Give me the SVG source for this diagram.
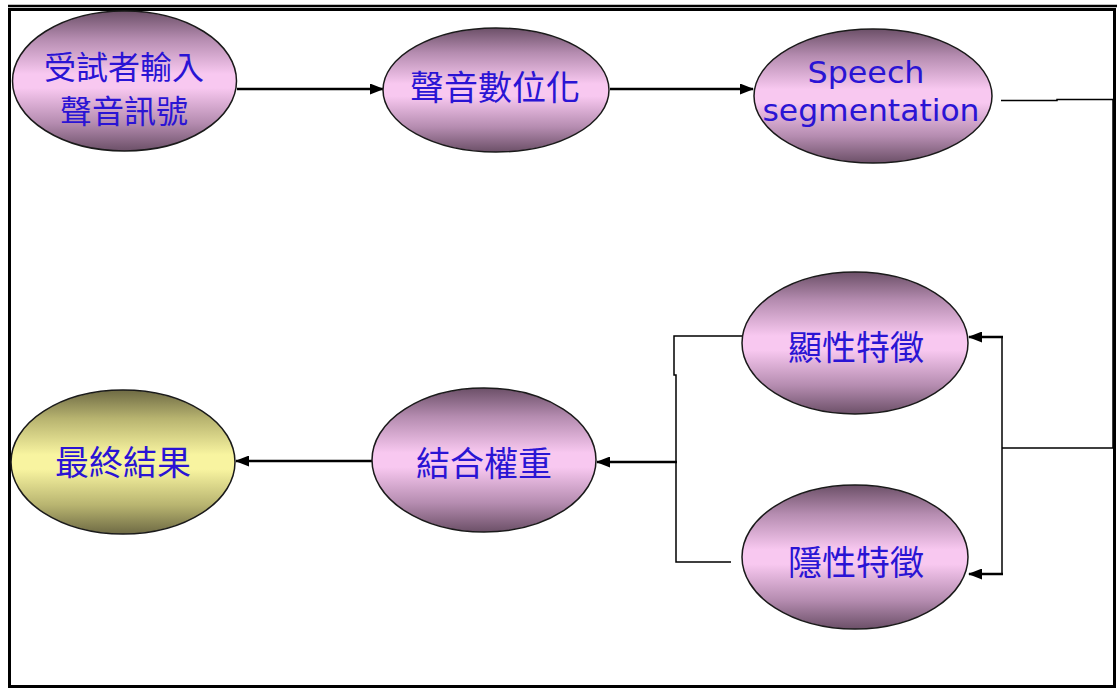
<svg xmlns="http://www.w3.org/2000/svg" width="1117" height="689" viewBox="0 0 1117 689">
<defs>
<linearGradient id="pink" x1="0" y1="0" x2="0" y2="1">
<stop offset="0" stop-color="#6c5068"/>
<stop offset="0.2" stop-color="#b58cb0"/>
<stop offset="0.45" stop-color="#f8c8f0"/>
<stop offset="0.55" stop-color="#f8c8f0"/>
<stop offset="0.8" stop-color="#b58cb0"/>
<stop offset="1" stop-color="#6c5068"/>
</linearGradient>
<linearGradient id="yellow" x1="0" y1="0" x2="0" y2="1">
<stop offset="0" stop-color="#6e6a44"/>
<stop offset="0.2" stop-color="#b8b470"/>
<stop offset="0.45" stop-color="#f8f4a0"/>
<stop offset="0.55" stop-color="#f8f4a0"/>
<stop offset="0.8" stop-color="#b8b470"/>
<stop offset="1" stop-color="#6e6a44"/>
</linearGradient>
<marker id="arr" viewBox="0 0 14 11" refX="13" refY="5.5" markerWidth="14" markerHeight="11" markerUnits="userSpaceOnUse" orient="auto">
<path d="M0,0 L14,5.5 L0,11 Z" fill="#000"/>
</marker>
</defs>
<style>
.node{stroke:#1a1a1a;stroke-width:1.5}
.cjk{font-family:"Noto Sans CJK TC","Noto Sans CJK SC",sans-serif;font-size:34px;fill:#2a14d4;text-anchor:middle;dominant-baseline:central}
.sm{font-size:32px}
.lat{font-family:"DejaVu Sans",sans-serif;font-size:31px;fill:#2a14d4;text-anchor:middle}
.conn{fill:none;stroke:#000;stroke-width:2.5}
.thin{fill:none;stroke:#000;stroke-width:1.5}
</style>
<rect width="1117" height="689" fill="#fff"/>
<line x1="8" y1="6" x2="1117" y2="6" stroke="#000" stroke-width="2.5"/>
<rect x="9.5" y="9.5" width="1105" height="677" fill="none" stroke="#000" stroke-width="3"/>

<g id="connectors">
<line class="conn" x1="237" y1="89" x2="383" y2="89" marker-end="url(#arr)"/>
<line class="conn" x1="610" y1="89" x2="753" y2="89" marker-end="url(#arr)"/>
<polyline class="thin" points="1001,100.5 1057,100.5 1057,99.5 1113,99.5 1113,448 1002,448"/>
<line class="thin" x1="1002" y1="337" x2="1002" y2="575"/>
<line class="conn" x1="1003" y1="337" x2="969" y2="337" marker-end="url(#arr)"/>
<line class="conn" x1="1003" y1="574" x2="969" y2="574" marker-end="url(#arr)"/>
<polyline class="thin" points="742,336 674,336 674,375 676,375 676,562 731,562"/>
<line class="conn" x1="677" y1="462" x2="597" y2="462" marker-end="url(#arr)"/>
<line class="conn" x1="372" y1="461" x2="236" y2="461" marker-end="url(#arr)"/>
</g>

<g id="n1">
<ellipse class="node" cx="124.5" cy="81" rx="112" ry="70" fill="url(#pink)"/>
<text class="cjk sm" x="124" y="65">受試者輸入</text>
<text class="cjk sm" x="124" y="109">聲音訊號</text>
</g>
<g id="n2">
<ellipse class="node" cx="496" cy="90" rx="113" ry="62" fill="url(#pink)"/>
<text class="cjk" x="495" y="85">聲音數位化</text>
</g>
<g id="n3">
<ellipse class="node" cx="873" cy="96" rx="119" ry="67" fill="url(#pink)"/>
<text class="lat" x="866" y="83" textLength="117" lengthAdjust="spacingAndGlyphs">Speech</text>
<text class="lat" x="871" y="121" textLength="217" lengthAdjust="spacingAndGlyphs">segmentation</text>
</g>
<g id="n4">
<ellipse class="node" cx="855" cy="343" rx="113" ry="71" fill="url(#pink)"/>
<text class="cjk" x="856" y="345">顯性特徵</text>
</g>
<g id="n5">
<ellipse class="node" cx="855" cy="557" rx="113" ry="72" fill="url(#pink)"/>
<text class="cjk" x="856" y="560">隱性特徵</text>
</g>
<g id="n6">
<ellipse class="node" cx="484" cy="460" rx="112" ry="72" fill="url(#pink)"/>
<text class="cjk" x="484" y="461">結合權重</text>
</g>
<g id="n7">
<ellipse class="node" cx="123" cy="462" rx="112" ry="72" fill="url(#yellow)"/>
<text class="cjk" x="123" y="460">最終結果</text>
</g>
</svg>
